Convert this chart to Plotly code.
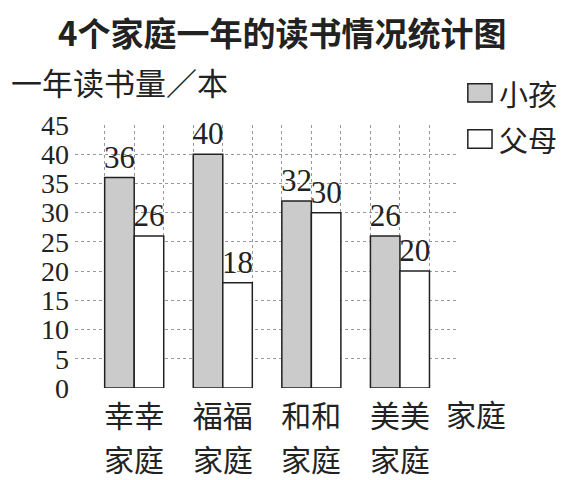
import plotly.graph_objects as go

families = ["幸幸家庭", "福福家庭", "和和家庭", "美美家庭"]
family_names = ["幸幸", "福福", "和和", "美美"]
family_suffix = "家庭"
series_names = ["小孩", "父母"]
children = [36, 40, 32, 26]
parents = [26, 18, 30, 20]
y_ticks = [0, 5, 10, 15, 20, 25, 30, 35, 40, 45]

cjk = "Noto Sans CJK SC"
serif = "Liberation Serif"

# each family takes 3 grid cells: child bar, parent bar, gap
centers = [2 + 3 * i for i in range(len(families))]
x_child = [c - 0.5 for c in centers]
x_parent = [c + 0.5 for c in centers]

fig = go.Figure()
fig.add_trace(go.Bar(x=x_child, y=children, width=1, name=series_names[0],
                     marker=dict(color="#cbcbcb", line=dict(color="#222", width=1.5)),
                     text=children, textposition="outside", constraintext="none",
                     textfont=dict(family=serif, size=31, color="#222"),
                     cliponaxis=False, showlegend=False))
fig.add_trace(go.Bar(x=x_parent, y=parents, width=1, name=series_names[1],
                     marker=dict(color="white", line=dict(color="#222", width=1.5)),
                     text=parents, textposition="outside", constraintext="none",
                     textfont=dict(family=serif, size=31, color="#222"),
                     cliponaxis=False, showlegend=False))

# page body adds 8px, so margins are 8px smaller on top/left
fig.update_layout(
    width=573, height=480,
    margin=dict(l=67, r=122, t=117, b=100),
    paper_bgcolor="white", plot_bgcolor="white",
    barmode="overlay",
    xaxis=dict(range=[-0.005, 13], tickvals=centers, ticktext=family_names, automargin=False,
               tickfont=dict(family=cjk, size=30, color="#222"), ticklabelstandoff=8,
               showgrid=True, gridcolor="#999", griddash="dot", gridwidth=1,
               minor=dict(dtick=1, tick0=0, showgrid=True, gridcolor="#999",
                          griddash="dot", gridwidth=1),
               zeroline=False, showline=False, ticks=""),
    yaxis=dict(range=[0, 45], tickvals=y_ticks, automargin=False,
               tickfont=dict(family=serif, size=28, color="#222"),
               showgrid=True, gridcolor="#999", griddash="dot", gridwidth=1,
               zeroline=False, showline=False, ticks="", ticklabelstandoff=5),
)

# title
fig.add_annotation(text="<b>4个家庭一年的读书情况统计图</b>", xref="paper", yref="paper",
                   x=0.539, y=1.355, xanchor="center", yanchor="middle", showarrow=False,
                   font=dict(family=cjk, size=33, color="#222"))

# second line of each family label
for c in centers:
    fig.add_annotation(text=family_suffix, x=c, xref="x", yref="paper", y=-0.266,
                       yanchor="middle", showarrow=False,
                       font=dict(family=cjk, size=30, color="#222"))

# y axis title and x axis title
fig.add_annotation(text="一年读书量／本", xref="paper", yref="paper", x=-0.172, y=1.165,
                   xanchor="left", yanchor="middle", showarrow=False,
                   font=dict(family=cjk, size=31, color="#222"))
fig.add_annotation(text=family_suffix, xref="paper", yref="paper", x=0.96, y=-0.095,
                   xanchor="left", yanchor="middle", showarrow=False,
                   font=dict(family=cjk, size=30, color="#222"))

# legend boxes
fills = ["#cbcbcb", "white"]
for i, name in enumerate(series_names):
    y0 = 1.087 - i * 0.175
    fig.add_shape(type="rect", xref="paper", yref="paper", x0=1.023, x1=1.086,
                  y0=y0, y1=y0 + 0.07, fillcolor=fills[i], line=dict(color="#222", width=1.5))
    fig.add_annotation(text=name, xref="paper", yref="paper", x=1.1, y=y0 + 0.035,
                       xanchor="left", yanchor="middle", showarrow=False,
                       font=dict(family=cjk, size=29, color="#222"))

fig.write_html("out.html")
